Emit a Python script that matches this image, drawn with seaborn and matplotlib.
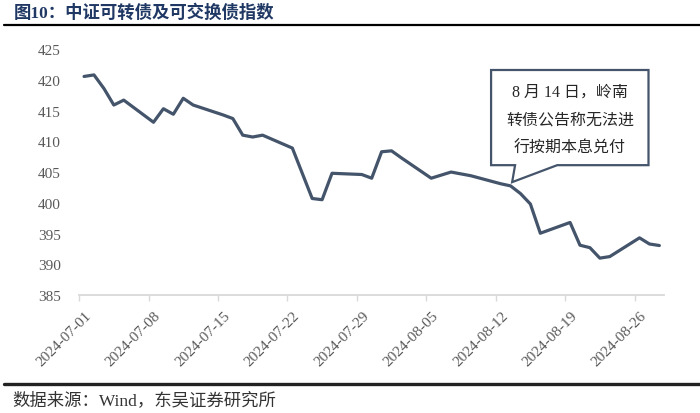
import pandas as pd
import matplotlib
matplotlib.use("Agg")
import matplotlib.pyplot as plt
import matplotlib.dates as mdates
import matplotlib.transforms as mtransforms
from matplotlib.patches import Polygon
import seaborn as sns

# trading days and index closes
dates = [
    "2024-07-01", "2024-07-02", "2024-07-03", "2024-07-04", "2024-07-05",
    "2024-07-08", "2024-07-09", "2024-07-10", "2024-07-11", "2024-07-12",
    "2024-07-15", "2024-07-16", "2024-07-17", "2024-07-18", "2024-07-19",
    "2024-07-22", "2024-07-23", "2024-07-24", "2024-07-25", "2024-07-26",
    "2024-07-29", "2024-07-30", "2024-07-31", "2024-08-01", "2024-08-02",
    "2024-08-05", "2024-08-06", "2024-08-07", "2024-08-08", "2024-08-09",
    "2024-08-12", "2024-08-13", "2024-08-14", "2024-08-15", "2024-08-16",
    "2024-08-19", "2024-08-20", "2024-08-21", "2024-08-22", "2024-08-23",
    "2024-08-26", "2024-08-27", "2024-08-28",
]
index_values = [
    420.55, 420.8, 418.6, 415.9, 416.7,
    413.1, 415.3, 414.4, 417.0, 415.9,
    414.3, 413.7, 411.0, 410.7, 411.0,
    408.9, 404.8, 400.7, 400.5, 404.8,
    404.6, 404.0, 408.3, 408.45, 407.3,
    404.0, 404.5, 405.0, 404.7, 404.4,
    403.1, 402.75, 401.5, 399.8, 395.05,
    396.8, 393.1, 392.7, 391.0, 391.25,
    394.3, 393.3, 393.05,
]
tick_dates = ["2024-07-01", "2024-07-08", "2024-07-15", "2024-07-22", "2024-07-29",
              "2024-08-05", "2024-08-12", "2024-08-19", "2024-08-26"]
y_ticks = [385, 390, 395, 400, 405, 410, 415, 420, 425]

title_text = "图10：中证可转债及可交换债指数"
source_text = "数据来源：Wind，东吴证券研究所"
note_lines = ["8 月 14 日，岭南", "转债公告称无法进", "行按期本息兑付"]

sns.set_style("white")
serif_cjk = ["Liberation Serif", "Noto Sans CJK SC"]
plt.rcParams["font.family"] = serif_cjk
plt.rcParams["axes.unicode_minus"] = False

LINE_COLOR = "#44546A"
AXIS_GRAY = "#D9D9D9"
TEXT_GRAY = "#595959"

df = pd.DataFrame({"date": pd.to_datetime(dates), "value": index_values})
# Excel date axis puts each point in the middle of its day slot
df["x"] = df["date"] + pd.Timedelta(hours=12)

fig = plt.figure(figsize=(7, 4.14), dpi=100)
ax = fig.add_axes([0.113, 0.285, 0.836, 0.594])

sns.lineplot(data=df, x="x", y="value", ax=ax, color=LINE_COLOR, linewidth=2.3)

ax.set_xlim(pd.Timestamp("2024-07-01"), pd.Timestamp("2024-08-29"))
ax.set_ylim(min(y_ticks), max(y_ticks))
ax.set_yticks(y_ticks)
ax.set_xticks(pd.to_datetime(tick_dates))
ax.xaxis.set_major_formatter(mdates.DateFormatter("%Y-%m-%d"))
ax.set_xlabel("")
ax.set_ylabel("")

for side in ["left", "right", "top"]:
    ax.spines[side].set_visible(False)
ax.spines["bottom"].set_color(AXIS_GRAY)
ax.spines["bottom"].set_linewidth(1.3)

ax.tick_params(axis="y", length=0, pad=13, labelsize=11, labelcolor=TEXT_GRAY)
ax.tick_params(axis="x", length=4, width=1, color=AXIS_GRAY, pad=6,
               labelsize=11, labelcolor=TEXT_GRAY, direction="out")
ax.tick_params(axis="x", bottom=True)
shift = mtransforms.ScaledTranslation(4 / 72, 0, fig.dpi_scale_trans)
for lab in ax.get_xticklabels():
    lab.set_rotation(45)
    lab.set_ha("right")
    lab.set_rotation_mode("anchor")
    lab.set_transform(lab.get_transform() + shift)

# callout box with pointer (axes fraction)
callout = Polygon(
    [(0.704, 0.915), (0.973, 0.915), (0.973, 0.528), (0.817, 0.528),
     (0.740, 0.459), (0.745, 0.528), (0.704, 0.528)],
    closed=True, transform=ax.transAxes, facecolor="white",
    edgecolor=LINE_COLOR, linewidth=1.6, zorder=5, clip_on=False,
)
ax.add_patch(callout)
for i, line in enumerate(note_lines):
    ax.text(0.839, 0.825 - i * 0.112, line, transform=ax.transAxes,
            ha="center", va="center", fontsize=11.5, color="#262626", zorder=6)

# header and footer
fig.text(0.02, 0.968, title_text, ha="left", va="center", fontsize=12.5,
         fontweight="bold", color="#203864")
fig.add_artist(plt.Line2D([0.005, 1.0], [0.938, 0.938], color="black",
                          linewidth=1.6, transform=fig.transFigure))
fig.add_artist(plt.Line2D([0.005, 1.0], [0.071, 0.071], color="#222222",
                          linewidth=2.4, transform=fig.transFigure))
fig.text(0.018, 0.031, source_text, ha="left", va="center", fontsize=12.5,
         color="#333333")

fig.savefig("out.png", dpi=100)
